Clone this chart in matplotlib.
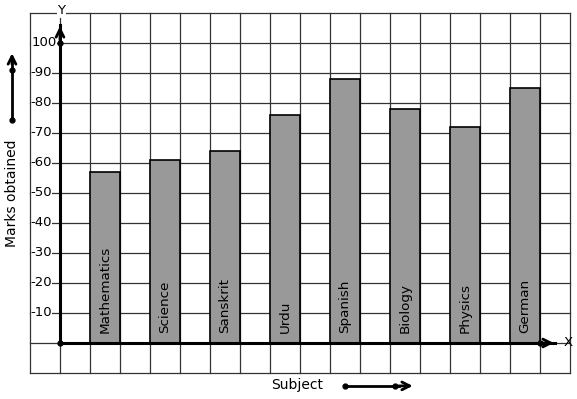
import matplotlib.pyplot as plt

subjects = ["Mathematics", "Science", "Sanskrit", "Urdu", "Spanish", "Biology", "Physics", "German"]
marks = [57, 61, 64, 76, 88, 78, 72, 85]
y_ticks = [10, 20, 30, 40, 50, 60, 70, 80, 90, 100]

fig = plt.figure(figsize=(5.77, 3.99), dpi=100)
ax = fig.add_axes([0, 0, 1, 1])
# pixel mapping: x = (px-60)/30, y = (343-py)/3
ax.set_xlim(-2, 517 / 30)
ax.set_ylim(-56 / 3, 343 / 3)
ax.axis("off")

# grid
for gx in range(-1, 18):
    ax.plot([gx, gx], [-10, 110], color="#333333", lw=0.9, zorder=4 if gx == -1 else 1)
for gy in range(-10, 111, 10):
    ax.plot([-1, 17], [gy, gy], color="#333333", lw=0.9, zorder=1)

# bars
xs = [1.5 + 2 * i for i in range(len(subjects))]
ax.bar(xs, marks, width=1, color="#999999", edgecolor="black", lw=1.2, zorder=2)
for x, s in zip(xs, subjects):
    ax.text(x, 3.3, s, rotation=90, ha="center", va="bottom", fontsize=9.7, zorder=3)

# axes with arrows
ax.plot([0, 0], [0, 106], color="black", lw=2.2, zorder=4)
ax.plot([0, 16.5], [0, 0], color="black", lw=2.2, zorder=4)
ax.plot([0, 0, 16], [100, 0, 0], "o", color="black", ms=3.5, zorder=5)
ax.annotate("", xy=(0, 106.5), xytext=(0, 100), zorder=5,
            arrowprops=dict(arrowstyle="->", color="black", lw=2, mutation_scale=14))
ax.annotate("", xy=(16.55, 0), xytext=(16, 0), zorder=5,
            arrowprops=dict(arrowstyle="->", color="black", lw=2, mutation_scale=14))
ax.text(0.05, 110.7, "Y", ha="center", va="center", fontsize=9.5,
        bbox=dict(facecolor="white", edgecolor="none", pad=0.5), zorder=6)
ax.text(16.8, 0.3, "X", ha="left", va="center", fontsize=9.5)

for t in y_ticks:
    label = str(t) if t == 100 else "-" + str(t)
    ax.text(-0.96 if t == 100 else -1.0, t, label, ha="left", va="center", fontsize=9.5,
            bbox=dict(facecolor="white", edgecolor="none", pad=0.3), zorder=3)

# axis titles with decorative arrows
ax.text(-1.6, 50, "Marks obtained", rotation=90, ha="center", va="center", fontsize=10)
ax.plot([-1.6, -1.6], [74.3, 95], color="black", lw=2)
ax.plot([-1.6, -1.6], [74.3, 91], "o", color="black", ms=3.5)
ax.annotate("", xy=(-1.6, 97.5), xytext=(-1.6, 92), zorder=5,
            arrowprops=dict(arrowstyle="->", color="black", lw=2, mutation_scale=14))

ax.text(7.9, -14, "Subject", ha="center", va="center", fontsize=10)
ax.plot([9.5, 11.3], [-14.3, -14.3], color="black", lw=2)
ax.plot([9.5, 11.17], [-14.3, -14.3], "o", color="black", ms=3.5)
ax.annotate("", xy=(11.85, -14.3), xytext=(11.2, -14.3), zorder=5,
            arrowprops=dict(arrowstyle="->", color="black", lw=2, mutation_scale=14))

fig.savefig("out.png", dpi=100)
